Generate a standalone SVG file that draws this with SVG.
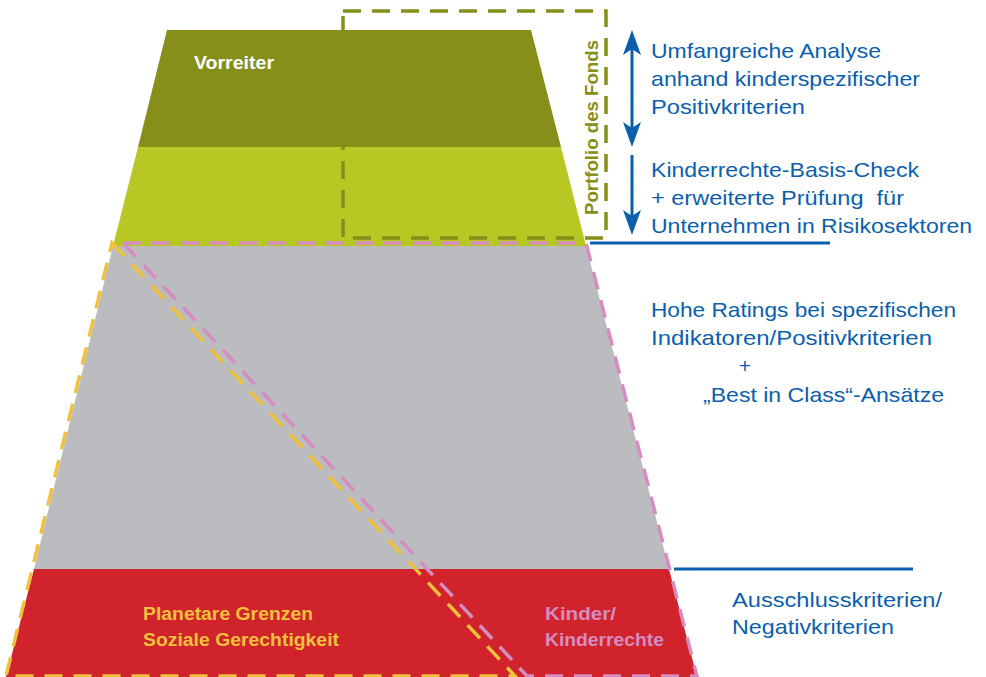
<svg xmlns="http://www.w3.org/2000/svg" width="986" height="677" viewBox="0 0 986 677">
<style>
.lbl{font-family:"Liberation Sans",Arial,sans-serif;font-size:21px;fill:#0b5fad}
.bold{font-family:"Liberation Sans",Arial,sans-serif;font-weight:bold;font-size:18px}
.dash{fill:none;stroke-width:3.5;stroke-dasharray:18 11}
.blue{stroke:#0b5fad;stroke-width:3;fill:none}
.head{fill:#0b5fad}
</style>
<rect width="986" height="677" fill="#ffffff"/>
<g id="level-vorreiter">
<polygon points="167,30 531,30 561,147 138,147" fill="#858f1a"/>
<text class="bold" x="194" y="69" fill="#ffffff" textLength="80" lengthAdjust="spacingAndGlyphs">Vorreiter</text>
</g>
<g id="level-basis">
<polygon points="138,147 561,147 586,246 113,246" fill="#b7c724"/>
</g>
<g id="level-ratings">
<polygon points="113,246 586,246 669,569 34,569" fill="#bbbcbf"/>
</g>
<g id="level-ausschluss">
<polygon points="34,569 669,569 697,677 6,677" fill="#d1232b"/>
<text class="bold" x="143" y="620" fill="#efc13d" textLength="170" lengthAdjust="spacingAndGlyphs">Planetare Grenzen</text>
<text class="bold" x="143" y="646" fill="#efc13d" textLength="196" lengthAdjust="spacingAndGlyphs">Soziale Gerechtigkeit</text>
<text class="bold" x="545" y="620" fill="#d68cc1" textLength="71" lengthAdjust="spacingAndGlyphs">Kinder/</text>
<text class="bold" x="545" y="646" fill="#d68cc1" textLength="119" lengthAdjust="spacingAndGlyphs">Kinderrechte</text>
</g>
<g id="area-planetare">
<polygon class="dash" points="112,243 515,676 6,676" stroke="#efc13d"/>
</g>
<g id="area-kinder">
<polygon class="dash" points="123,243 586,243 697,676 527,676" stroke="#d68cc1"/>
</g>
<g id="portfolio">
<rect class="dash" x="343" y="11" width="263" height="227" stroke="#858f1a" stroke-width="4"/>
<text class="bold" transform="translate(598,215) rotate(-90)" fill="#858f1a" textLength="175" lengthAdjust="spacingAndGlyphs">Portfolio des Fonds</text>
</g>
<g id="connectors">
<line class="blue" x1="632" y1="48" x2="632" y2="129"/>
<polygon class="head" points="632,30 641,55 632,49 623,55"/>
<polygon class="head" points="632,147 641,122 632,128 623,122"/>
<line class="blue" x1="632" y1="155" x2="632" y2="216"/>
<polygon class="head" points="632,235 641,210 632,216 623,210"/>
<line class="blue" x1="590" y1="243" x2="830" y2="243"/>
<line class="blue" x1="674" y1="569" x2="913" y2="569"/>
</g>
<g id="label-analyse">
<text class="lbl" x="651" y="58" textLength="230" lengthAdjust="spacingAndGlyphs">Umfangreiche Analyse</text>
<text class="lbl" x="651" y="86" textLength="269" lengthAdjust="spacingAndGlyphs">anhand kinderspezifischer</text>
<text class="lbl" x="651" y="114" textLength="154" lengthAdjust="spacingAndGlyphs">Positivkriterien</text>
</g>
<g id="label-basis">
<text class="lbl" x="651" y="177" textLength="268" lengthAdjust="spacingAndGlyphs">Kinderrechte-Basis-Check</text>
<text class="lbl" x="651" y="205" textLength="253" lengthAdjust="spacingAndGlyphs" xml:space="preserve">+ erweiterte Prüfung  für</text>
<text class="lbl" x="651" y="233" textLength="321" lengthAdjust="spacingAndGlyphs">Unternehmen in Risikosektoren</text>
</g>
<g id="label-ratings">
<text class="lbl" x="651" y="317" textLength="305" lengthAdjust="spacingAndGlyphs">Hohe Ratings bei spezifischen</text>
<text class="lbl" x="651" y="345" textLength="281" lengthAdjust="spacingAndGlyphs">Indikatoren/Positivkriterien</text>
<text class="lbl" x="745" y="373" text-anchor="middle">+</text>
<text class="lbl" x="703" y="402" textLength="241" lengthAdjust="spacingAndGlyphs">„Best in Class“-Ansätze</text>
</g>
<g id="label-ausschluss">
<text class="lbl" x="732" y="607" textLength="210" lengthAdjust="spacingAndGlyphs">Ausschlusskriterien/</text>
<text class="lbl" x="732" y="634" textLength="162" lengthAdjust="spacingAndGlyphs">Negativkriterien</text>
</g>
</svg>
